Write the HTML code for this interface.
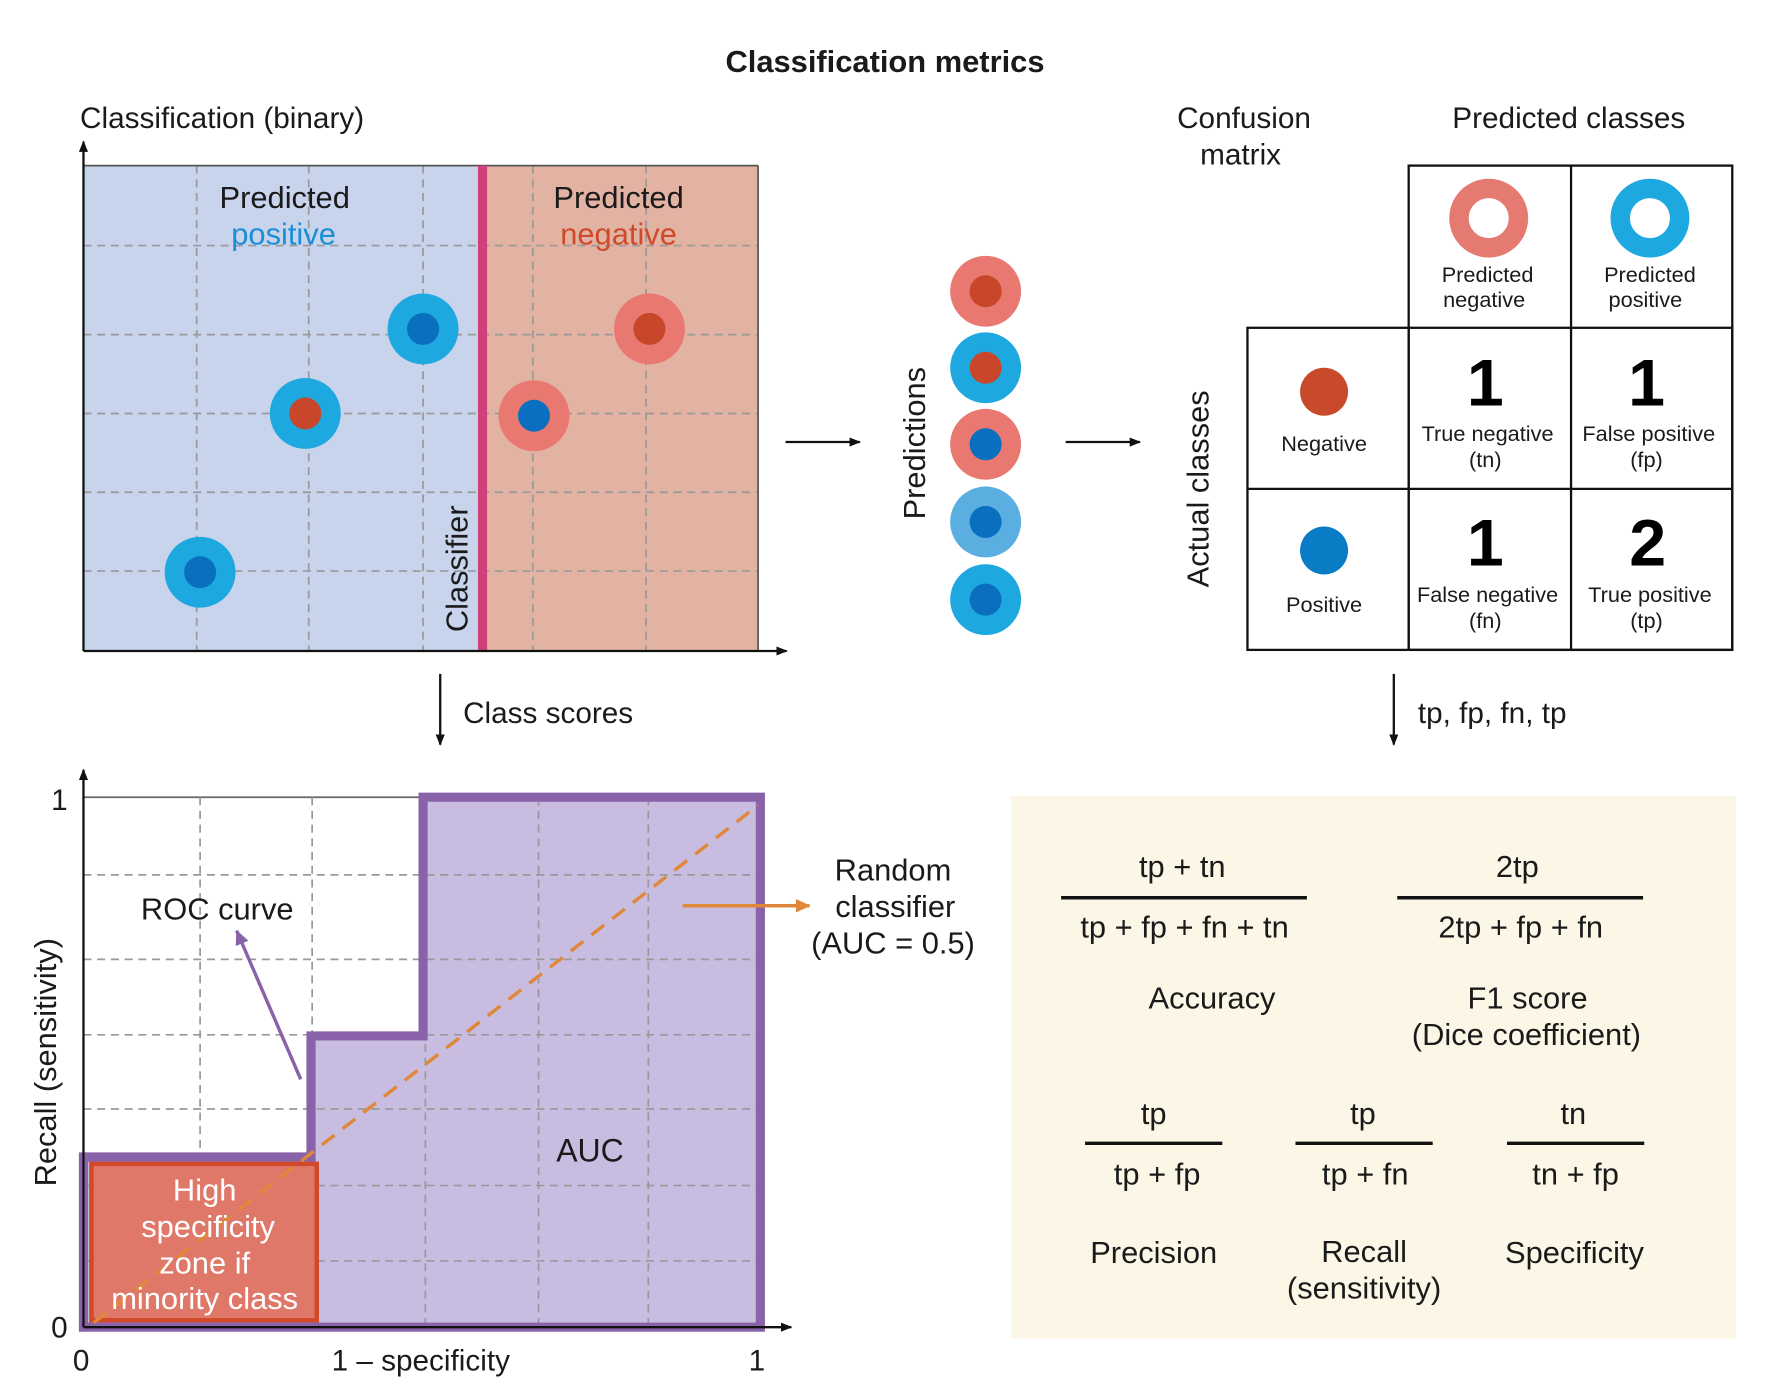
<!DOCTYPE html>
<html><head><meta charset="utf-8"><style>
html,body{margin:0;padding:0;background:#fff;}
svg{display:block;}
text{font-family:"Liberation Sans",sans-serif;fill:#1a1a1a;}
</style></head><body>
<svg width="1770" height="1398" viewBox="0 0 1548 1224" preserveAspectRatio="none" xmlns="http://www.w3.org/2000/svg">
<defs>
<marker id="ah" markerWidth="10" markerHeight="10" refX="9" refY="5" orient="auto" markerUnits="userSpaceOnUse"><path d="M0,1 L10,5 L0,9 Z" fill="#111"/></marker>
<marker id="ap" markerWidth="14" markerHeight="14" refX="12" refY="7" orient="auto" markerUnits="userSpaceOnUse"><path d="M0,1 L13,7 L0,13 Z" fill="#8a62aa"/></marker>
<marker id="ao" markerWidth="14" markerHeight="14" refX="12" refY="7" orient="auto" markerUnits="userSpaceOnUse"><path d="M0,1 L13,7 L0,13 Z" fill="#e0883a"/></marker>
</defs>

<text x="774" y="63" font-size="27" font-weight="bold" text-anchor="middle">Classification metrics</text>
<text x="70" y="112" font-size="26">Classification (binary)</text>

<!-- top plot -->
<rect x="73" y="145" width="347" height="425" fill="#c8d3ec"/>
<rect x="424" y="145" width="239" height="425" fill="#e2b2a2"/>
<g stroke="#999" stroke-width="1.5" stroke-dasharray="7,5" fill="none">
<line x1="172" y1="145" x2="172" y2="570"/><line x1="270" y1="145" x2="270" y2="570"/><line x1="370" y1="145" x2="370" y2="570"/><line x1="466" y1="145" x2="466" y2="570"/><line x1="565" y1="145" x2="565" y2="570"/>
<line x1="73" y1="215" x2="663" y2="215"/><line x1="73" y1="293" x2="663" y2="293"/><line x1="73" y1="362" x2="663" y2="362"/><line x1="73" y1="431" x2="663" y2="431"/><line x1="73" y1="500" x2="663" y2="500"/>
</g>
<line x1="73" y1="145" x2="663" y2="145" stroke="#555" stroke-width="1.5"/>
<line x1="663" y1="145" x2="663" y2="570" stroke="#555" stroke-width="1.5"/>
<rect x="418" y="145" width="8" height="425" fill="#d0407a"/>
<line x1="73" y1="570" x2="73" y2="124" stroke="#111" stroke-width="2" marker-end="url(#ah)"/>
<line x1="73" y1="570" x2="688" y2="570" stroke="#111" stroke-width="2" marker-end="url(#ah)"/>
<text x="249" y="182" font-size="27" text-anchor="middle">Predicted</text>
<text x="248" y="214" font-size="27" text-anchor="middle" style="fill:#1a8fd6">positive</text>
<text x="541" y="182" font-size="27" text-anchor="middle">Predicted</text>
<text x="541" y="214" font-size="27" text-anchor="middle" style="fill:#d04a2a">negative</text>
<text transform="translate(409,498) rotate(-90)" font-size="27" text-anchor="middle">Classifier</text>
<g>
<circle cx="370" cy="288" r="31" fill="#1ea8e0"/><circle cx="370" cy="288" r="14" fill="#0a6fbe"/>
<circle cx="175" cy="501" r="31" fill="#1ea8e0"/><circle cx="175" cy="501" r="14" fill="#0a6fbe"/>
<circle cx="267" cy="362" r="31" fill="#1ea8e0"/><circle cx="267" cy="362" r="14" fill="#c8462a"/>
<circle cx="568" cy="288" r="31" fill="#e87870"/><circle cx="568" cy="288" r="14" fill="#c8462a"/>
<circle cx="467" cy="364" r="31" fill="#e87870"/><circle cx="467" cy="364" r="14" fill="#0a6fbe"/>
</g>

<line x1="687" y1="387" x2="752" y2="387" stroke="#111" stroke-width="2" marker-end="url(#ah)"/>
<line x1="932" y1="387" x2="997" y2="387" stroke="#111" stroke-width="2" marker-end="url(#ah)"/>
<text transform="translate(809,388) rotate(-90)" font-size="27" text-anchor="middle">Predictions</text>
<circle cx="862" cy="255" r="31" fill="#e87870"/><circle cx="862" cy="255" r="14" fill="#c8462a"/>
<circle cx="862" cy="322" r="31" fill="#1ea8e0"/><circle cx="862" cy="322" r="14" fill="#c8462a"/>
<circle cx="862" cy="389" r="31" fill="#e87870"/><circle cx="862" cy="389" r="14" fill="#0a6fbe"/>
<circle cx="862" cy="457" r="31" fill="#5aaee0"/><circle cx="862" cy="457" r="14" fill="#0a6fbe"/>
<circle cx="862" cy="525" r="31" fill="#1ea8e0"/><circle cx="862" cy="525" r="14" fill="#0a6fbe"/>

<!-- confusion matrix -->
<text x="1088" y="112" font-size="26" text-anchor="middle">Confusion</text>
<text x="1085" y="144" font-size="26" text-anchor="middle">matrix</text>
<text x="1372" y="112" font-size="26" text-anchor="middle">Predicted classes</text>
<g stroke="#111" stroke-width="2" fill="none">
<rect x="1232" y="145" width="283" height="424"/>
<rect x="1091" y="287" width="424" height="282"/>
<line x1="1374" y1="145" x2="1374" y2="569"/>
<line x1="1232" y1="287" x2="1232" y2="569"/>
<line x1="1091" y1="428" x2="1515" y2="428"/>
</g>
<circle cx="1302" cy="191" r="26" fill="none" stroke="#e47a70" stroke-width="17"/>
<circle cx="1443" cy="191" r="26" fill="none" stroke="#1ea8e0" stroke-width="17"/>
<text x="1301" y="247" font-size="19" text-anchor="middle">Predicted</text>
<text x="1298" y="269" font-size="19" text-anchor="middle">negative</text>
<text x="1443" y="247" font-size="19" text-anchor="middle">Predicted</text>
<text x="1439" y="269" font-size="19" text-anchor="middle">positive</text>
<circle cx="1158" cy="343" r="21" fill="#c84a2a"/>
<text x="1158" y="395" font-size="19" text-anchor="middle">Negative</text>
<circle cx="1158" cy="482" r="21" fill="#0a7cc6"/>
<text x="1158" y="536" font-size="19" text-anchor="middle">Positive</text>
<text x="1299" y="355" font-size="58" font-weight="bold" text-anchor="middle" style="fill:#000">1</text>
<text x="1440" y="355" font-size="58" font-weight="bold" text-anchor="middle" style="fill:#000">1</text>
<text x="1299" y="495" font-size="58" font-weight="bold" text-anchor="middle" style="fill:#000">1</text>
<text x="1441" y="495" font-size="58" font-weight="bold" text-anchor="middle" style="fill:#000">2</text>
<text x="1301" y="386" font-size="19" text-anchor="middle">True negative</text>
<text x="1299" y="409" font-size="19" text-anchor="middle">(tn)</text>
<text x="1442" y="386" font-size="19" text-anchor="middle">False positive</text>
<text x="1440" y="409" font-size="19" text-anchor="middle">(fp)</text>
<text x="1301" y="527" font-size="19" text-anchor="middle">False negative</text>
<text x="1299" y="550" font-size="19" text-anchor="middle">(fn)</text>
<text x="1443" y="527" font-size="19" text-anchor="middle">True positive</text>
<text x="1440" y="550" font-size="19" text-anchor="middle">(tp)</text>
<text transform="translate(1057,428) rotate(-90)" font-size="27" text-anchor="middle">Actual classes</text>

<!-- down arrows -->
<line x1="385" y1="590" x2="385" y2="652" stroke="#111" stroke-width="2" marker-end="url(#ah)"/>
<text x="405" y="633" font-size="26">Class scores</text>
<line x1="1219" y1="590" x2="1219" y2="652" stroke="#111" stroke-width="2" marker-end="url(#ah)"/>
<text x="1240" y="633" font-size="26">tp, fp, fn, tp</text>

<!-- ROC -->
<line x1="73" y1="698" x2="663" y2="698" stroke="#666" stroke-width="1.5"/>
<polygon points="73,1162 73,1013 272,1013 272,907 370,907 370,698 665,698 665,1162" fill="#c8bde0"/>
<g stroke="#999" stroke-width="1.5" stroke-dasharray="7,5" fill="none">
<line x1="175" y1="698" x2="175" y2="1162"/><line x1="273" y1="698" x2="273" y2="1162"/><line x1="372" y1="698" x2="372" y2="1162"/><line x1="471" y1="698" x2="471" y2="1162"/><line x1="567" y1="698" x2="567" y2="1162"/>
<line x1="73" y1="766" x2="665" y2="766"/><line x1="73" y1="840" x2="665" y2="840"/><line x1="73" y1="906" x2="665" y2="906"/><line x1="73" y1="971" x2="665" y2="971"/><line x1="73" y1="1038" x2="665" y2="1038"/><line x1="73" y1="1104" x2="665" y2="1104"/>
</g>
<rect x="80" y="1019" width="197" height="137" fill="#e0786a" stroke="#d04a2a" stroke-width="4"/>
<polygon points="73,1162 73,1013 272,1013 272,907 370,907 370,698 665,698 665,1162" fill="none" stroke="#8a62aa" stroke-width="8"/>
<line x1="82" y1="1158" x2="663" y2="705" stroke="#e0883a" stroke-width="3" stroke-dasharray="14,9"/>
<line x1="73" y1="1162" x2="73" y2="674" stroke="#111" stroke-width="2" marker-end="url(#ah)"/>
<line x1="73" y1="1162" x2="692" y2="1162" stroke="#111" stroke-width="2" marker-end="url(#ah)"/>
<text x="52" y="709" font-size="26" text-anchor="middle">1</text>
<text x="52" y="1171" font-size="26" text-anchor="middle">0</text>
<text x="71" y="1200" font-size="26" text-anchor="middle">0</text>
<text x="368" y="1200" font-size="26" text-anchor="middle">1 – specificity</text>
<text x="662" y="1200" font-size="26" text-anchor="middle">1</text>
<text transform="translate(49,930) rotate(-90)" font-size="27" text-anchor="middle">Recall  (sensitivity)</text>
<text x="190" y="805" font-size="27" text-anchor="middle">ROC curve</text>
<line x1="263" y1="945" x2="207" y2="815" stroke="#8a62aa" stroke-width="3" marker-end="url(#ap)"/>
<text x="516" y="1017" font-size="28" text-anchor="middle">AUC</text>
<g font-size="27" text-anchor="middle">
<text x="179" y="1051" style="fill:#fff">High</text>
<text x="182" y="1083" style="fill:#fff">specificity</text>
<text x="179" y="1115" style="fill:#fff">zone if</text>
<text x="179" y="1146" style="fill:#fff">minority class</text>
</g>
<line x1="597" y1="793" x2="708" y2="793" stroke="#e0883a" stroke-width="3" marker-end="url(#ao)"/>
<text x="781" y="771" font-size="27" text-anchor="middle">Random</text>
<text x="783" y="803" font-size="27" text-anchor="middle">classifier</text>
<text x="781" y="835" font-size="27" text-anchor="middle">(AUC = 0.5)</text>

<!-- formulas -->
<rect x="884" y="697" width="634" height="475" fill="#fbf6e6"/>
<g font-size="27" text-anchor="middle">
<text x="1034" y="768">tp + tn</text>
<text x="1036" y="821">tp + fp + fn + tn</text>
<text x="1060" y="883">Accuracy</text>
<text x="1327" y="768">2tp</text>
<text x="1330" y="821">2tp + fp + fn</text>
<text x="1336" y="883">F1 score</text>
<text x="1335" y="915">(Dice coefficient)</text>
<text x="1009" y="984">tp</text>
<text x="1012" y="1037">tp + fp</text>
<text x="1009" y="1106">Precision</text>
<text x="1192" y="984">tp</text>
<text x="1194" y="1037">tp + fn</text>
<text x="1193" y="1105">Recall</text>
<text x="1193" y="1137">(sensitivity)</text>
<text x="1376" y="984">tn</text>
<text x="1378" y="1037">tn + fp</text>
<text x="1377" y="1106">Specificity</text>
</g>
<g stroke="#111" stroke-width="3">
<line x1="928" y1="786" x2="1143" y2="786"/>
<line x1="1222" y1="786" x2="1437" y2="786"/>
<line x1="949" y1="1001" x2="1069" y2="1001"/>
<line x1="1133" y1="1001" x2="1253" y2="1001"/>
<line x1="1318" y1="1001" x2="1438" y2="1001"/>
</g>
</svg>
</body></html>
